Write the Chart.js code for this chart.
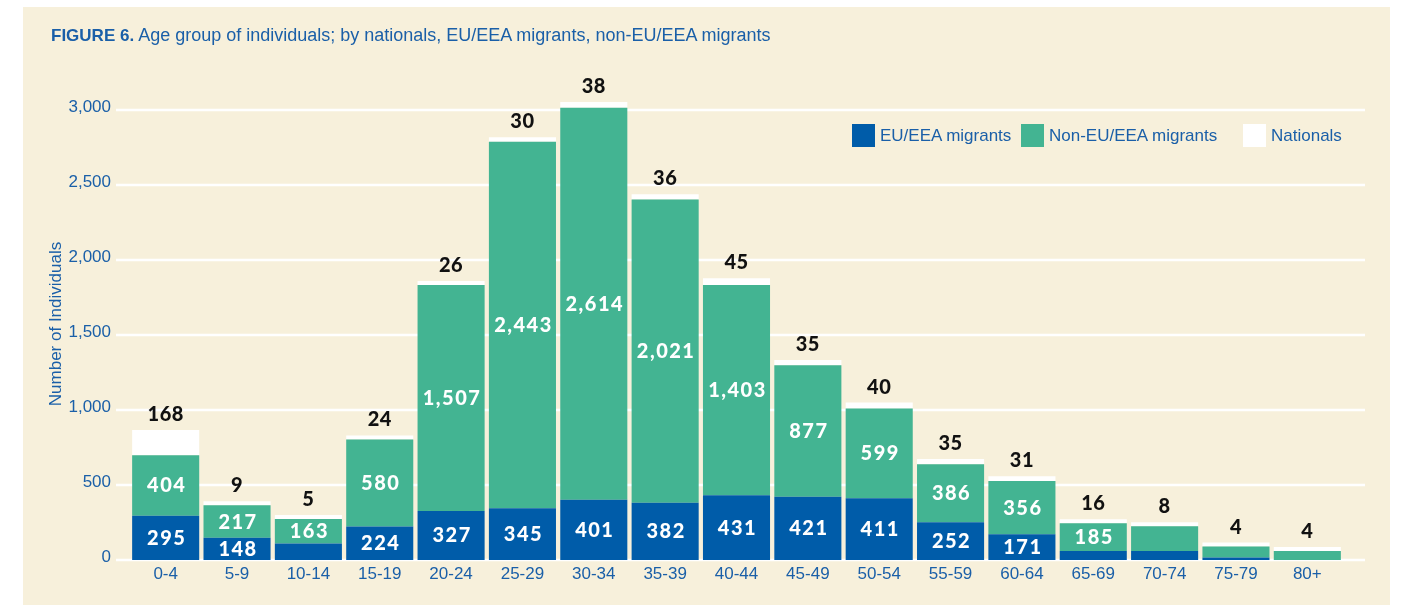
<!DOCTYPE html>
<html>
<head>
<meta charset="utf-8">
<script src="https://cdn.jsdelivr.net/npm/chart.js@4.4.1/dist/chart.umd.min.js"></script>
<style>
  html, body { margin: 0; padding: 0; background: #ffffff; }
  #wrap { position: relative; width: 1404px; height: 605px; overflow: hidden; }
  #panel { position: absolute; left: 23px; top: 7px; width: 1367px; height: 598px; background: #f7f0db; }
  #chart { position: absolute; left: 0; top: 0; }
  #title { position: absolute; left: 51px; top: 25px; font: 18px "Liberation Sans", Arial, sans-serif; color: #1a5fa8; white-space: nowrap; }
  #title b { font-weight: bold; font-size: 17px; }
  .lg { position: absolute; top: 124px; height: 23px; font: 17px "Liberation Sans", Arial, sans-serif; color: #1a5fa8; line-height: 23px; white-space: nowrap; }
  .lg i { display: inline-block; width: 23px; height: 23px; vertical-align: top; margin-right: 5px; }
</style>
</head>
<body>
<div id="wrap">
  <div id="panel"></div>
  <canvas id="chart" width="1404" height="605"></canvas>
  <div id="title"><b>FIGURE 6.</b> Age group of individuals; by nationals, EU/EEA migrants, non-EU/EEA migrants</div>
  <div class="lg" style="left:852px"><i style="background:#005ca9"></i>EU/EEA migrants</div>
  <div class="lg" style="left:1021px"><i style="background:#43b492"></i>Non-EU/EEA migrants</div>
  <div class="lg" style="left:1243px"><i style="background:#ffffff"></i>Nationals</div>
</div>
<script>
const ageGroups = ['0-4', '5-9', '10-14', '15-19', '20-24', '25-29', '30-34', '35-39', '40-44',
  '45-49', '50-54', '55-59', '60-64', '65-69', '70-74', '75-79', '80+'];
const euMigrants = [295, 148, 110, 224, 327, 345, 401, 382, 431, 421, 411, 252, 171, 60, 60, 17, 0];
const nonEuMigrants = [404, 217, 163, 580, 1507, 2443, 2614, 2021, 1403, 877, 599, 386, 356, 185, 165, 73, 60];
const nationals = [168, 9, 5, 24, 26, 30, 38, 36, 45, 35, 40, 35, 31, 16, 8, 4, 4];
// which numbers are printed on the bars (null = no label in the figure)
const euLabels = [295, 148, null, 224, 327, 345, 401, 382, 431, 421, 411, 252, 171, null, null, null, null];
const nonEuLabels = [404, 217, 163, 580, 1507, 2443, 2614, 2021, 1403, 877, 599, 386, 356, 185, null, null, null];
const yTicks = [0, 500, 1000, 1500, 2000, 2500, 3000];

const BLUE_TEXT = '#1a5fa8';
const AXIS_FONT = '"Liberation Sans", Arial, sans-serif';

// white gridlines, a bit wider than the plot area
const gridPlugin = {
  id: 'gridLines',
  beforeDatasetsDraw(chart) {
    const { ctx, chartArea } = chart;
    const y = chart.scales.y;
    ctx.save();
    ctx.strokeStyle = '#ffffff';
    ctx.lineWidth = 2.5;
    yTicks.forEach(v => {
      const py = Math.round(y.getPixelForValue(v));
      ctx.beginPath();
      ctx.moveTo(chartArea.left - 14, py);
      ctx.lineTo(chartArea.right + 22, py);
      ctx.stroke();
    });
    // y axis title, drawn by hand so it can sit a little above centre
    ctx.translate(56, chartArea.top + (chartArea.bottom - chartArea.top) / 2 - 11);
    ctx.rotate(-Math.PI / 2);
    ctx.font = '17px ' + AXIS_FONT;
    ctx.fillStyle = BLUE_TEXT;
    ctx.textAlign = 'center';
    ctx.textBaseline = 'middle';
    ctx.fillText('Number of Individuals', 0, 0);
    ctx.restore();
  }
};

// numbers inside segments and nationals count on top
const labelPlugin = {
  id: 'barLabels',
  afterDatasetsDraw(chart) {
    const { ctx } = chart;
    ctx.save();
    ctx.textAlign = 'center';
    ctx.textBaseline = 'alphabetic';
    ctx.letterSpacing = '1.5px';
    ctx.font = '900 20px Lato, "Open Sans", sans-serif';
    ctx.fillStyle = '#ffffff';
    const fmt = v => v.toLocaleString('en-US');
    [[0, euLabels], [1, nonEuLabels]].forEach(([di, labels]) => {
      chart.getDatasetMeta(di).data.forEach((bar, i) => {
        if (labels[i] == null) return;
        const mid = (bar.y + bar.base) / 2;
        ctx.fillText(fmt(labels[i]), bar.x + 1, mid + 7);
      });
    });
    ctx.letterSpacing = '0.5px';
    ctx.fillStyle = '#111111';
    ctx.font = '900 20px Lato, "Open Sans", sans-serif';
    chart.getDatasetMeta(2).data.forEach((bar, i) => {
      ctx.fillText(fmt(nationals[i]), bar.x, bar.y - 9);
    });
    ctx.restore();
  }
};

new Chart(document.getElementById('chart'), {
  type: 'bar',
  data: {
    labels: ageGroups,
    datasets: [
      { label: 'EU/EEA migrants', data: euMigrants, backgroundColor: '#005ca9', clip: false },
      { label: 'Non-EU/EEA migrants', data: nonEuMigrants, backgroundColor: '#43b492', clip: false },
      { label: 'Nationals', data: nationals, backgroundColor: '#ffffff', minBarLength: 4, clip: false }
    ]
  },
  options: {
    responsive: false,
    animation: false,
    layout: { padding: { top: 110, left: 46, right: 61, bottom: 0 } },
    datasets: { bar: { categoryPercentage: 1, barPercentage: 0.94 } },
    plugins: { legend: { display: false }, tooltip: { enabled: false } },
    scales: {
      x: {
        stacked: true,
        grid: { display: false, drawTicks: false },
        border: { display: false },
        ticks: { color: BLUE_TEXT, font: { family: AXIS_FONT, size: 17 }, padding: 4, maxRotation: 0 },
        afterFit(scale) { scale.height = 45; }
      },
      y: {
        stacked: true,
        min: 0,
        max: 3000,
        grid: { display: false, drawTicks: false },
        border: { display: false },
        afterBuildTicks(scale) { scale.ticks = yTicks.map(v => ({ value: v })); },
        ticks: {
          color: BLUE_TEXT,
          padding: 19,
          labelOffset: -3,
          font: { family: AXIS_FONT, size: 17 },
          callback: v => v.toLocaleString('en-US')
        },
        afterFit(scale) { scale.width = 84; }
      }
    }
  },
  plugins: [gridPlugin, labelPlugin]
});
</script>
</body>
</html>
